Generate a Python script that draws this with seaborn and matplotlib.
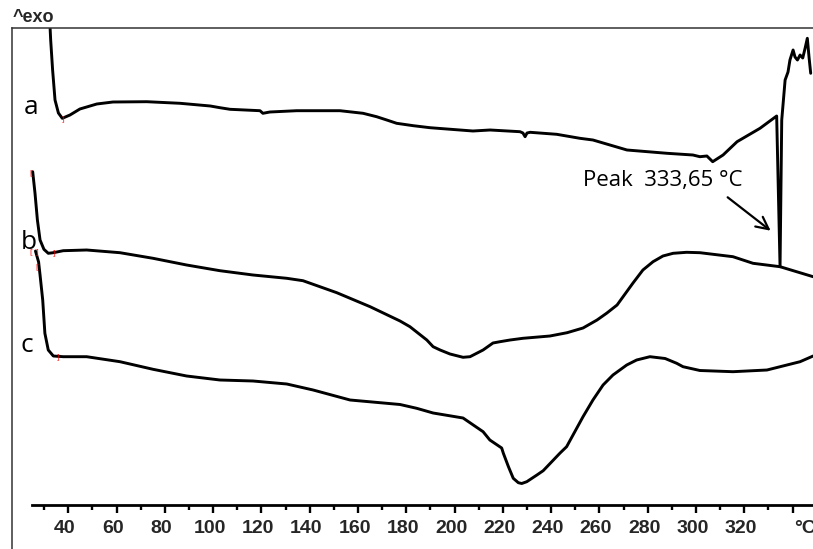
import numpy as np
import pandas as pd
import seaborn as sns
import matplotlib
matplotlib.use("Agg")
from matplotlib import pyplot as plt
from matplotlib.transforms import ScaledTranslation

# DSC curves, temperature in degC, heat flow in arbitrary units (exo up, offset curves)
temp_a = [32.2, 32.7, 33.5, 34.5, 35.9, 37.5, 40.7, 44.8, 51.8, 58.5, 72.5, 86.3, 98.8, 102.8,
          107.0, 119.4, 120.6, 123.5, 134.6, 152.5, 162.1, 167.7, 171.9, 176.0, 182.9, 189.8,
          207.6, 214.7, 227.1, 228.3, 229.2, 230.0, 231.3, 242.3, 251.9, 257.3, 271.4, 288.0,
          298.7, 301.6, 304.5, 306.9, 311.2, 317.0, 326.5, 333.4, 334.8, 335.5, 336.9, 338.1,
          338.9, 340.2, 341.0, 342.0, 343.1, 344.2, 345.2, 346.1, 346.8, 347.5]
flow_a = [49.0, 46.5, 43.5, 40.5, 39.2, 38.67, 39.0, 39.6, 40.1, 40.3, 40.33, 40.17, 39.9, 39.73,
          39.57, 39.43, 39.17, 39.3, 39.43, 39.43, 39.17, 38.83, 38.5, 38.17, 37.93, 37.73,
          37.4, 37.5, 37.33, 37.2, 36.83, 37.2, 37.27, 37.07, 36.67, 36.5, 35.5, 35.17,
          35.0, 34.83, 34.9, 34.33, 35.0, 36.33, 37.67, 38.9, 23.83, 38.5, 42.5, 43.3,
          44.5, 45.5, 44.8, 44.5, 45.0, 44.7, 45.7, 46.67, 44.8, 43.17]

temp_b = [25.25, 26.2, 27.2, 28.3, 29.9, 31.7, 33.8, 37.9, 47.6, 61.4, 75.1, 89.0, 102.8, 116.5,
          130.5, 137.2, 151.2, 165.0, 177.4, 181.5, 188.5, 191.1, 194.0, 198.1, 203.5, 206.4,
          211.8, 215.9, 218.8, 223.0, 228.3, 239.5, 246.6, 253.2, 259.0, 263.1, 267.3, 273.9,
          278.0, 282.2, 286.3, 290.5, 296.1, 301.6, 315.3, 323.6, 334.8, 348.5]
flow_b = [33.33, 31.2, 28.5, 26.5, 25.57, 25.17, 25.23, 25.43, 25.5, 25.23, 24.67, 24.0, 23.43, 23.0,
          22.67, 22.43, 21.23, 19.83, 18.4, 17.83, 16.5, 15.83, 15.5, 15.1, 14.77, 14.83,
          15.5, 16.2, 16.33, 16.5, 16.67, 16.9, 17.23, 17.7, 18.5, 19.2, 20.0, 22.2,
          23.5, 24.33, 24.9, 25.17, 25.27, 25.23, 24.83, 24.17, 23.83, 22.83]

temp_c = [26.4, 27.7, 28.3, 29.4, 30.3, 31.7, 33.8, 37.9, 47.6, 61.4, 75.1, 89.0, 102.8, 116.5,
          130.5, 141.4, 156.7, 177.4, 184.3, 191.1, 203.5, 211.8, 214.6, 219.5, 220.2, 222.3,
          224.3, 226.4, 227.8, 229.9, 234.1, 236.7, 243.7, 246.4, 253.2, 257.3, 261.5, 265.6,
          271.3, 275.4, 280.9, 287.2, 292.0, 294.6, 301.6, 315.3, 329.4, 343.1, 348.5]
flow_c = [25.4, 24.3, 23.0, 20.5, 17.17, 15.5, 14.9, 14.83, 14.83, 14.33, 13.57, 12.9, 12.5, 12.4,
          12.1, 11.5, 10.5, 10.05, 9.67, 9.2, 8.7, 7.33, 6.5, 5.7, 5.17, 3.83,
          2.67, 2.23, 2.15, 2.33, 3.0, 3.43, 5.2, 5.83, 8.83, 10.5, 12.0, 13.0,
          14.0, 14.5, 14.83, 14.65, 14.17, 13.83, 13.45, 13.33, 13.5, 14.33, 14.9]

curve_names = ["a", "b", "c"]
label_pos = [(21.65, 39.1), (20.4, 25.6), (20.4, 15.3)]

# integration limit marks
mark_text = ["]", "[", "[", "]", "]", "[", "]"]
mark_temp = [37.9, 24.4, 24.4, 27.3, 34.1, 26.9, 35.9]
mark_flow = [38.6, 33.2, 25.3, 25.3, 25.2, 23.8, 14.8]

major_ticks = list(range(40, 341, 20))
major_labels = [str(t) for t in range(40, 321, 20)] + ["°C"]
minor_ticks = list(range(30, 341, 20))

peak_text = "Peak  333,65 °C"

sns.set_theme(style="white")
plt.rcParams["font.family"] = ["Open Sans", "DejaVu Sans"]

fig = plt.figure(figsize=(8.13, 5.49), dpi=100)
ax = fig.add_axes([12 / 813, 0, 801 / 813, 521 / 549])

frames = []
for name, t, f in [("a", temp_a, flow_a), ("b", temp_b, flow_b), ("c", temp_c, flow_c)]:
    frames.append(pd.DataFrame({"T": t, "flow": f, "curve": name}))
df = pd.concat(frames, ignore_index=True)

sns.lineplot(data=df, x="T", y="flow", units="curve", estimator=None, sort=False,
             color="black", linewidth=2.1, ax=ax, legend=False,
             solid_joinstyle="round", solid_capstyle="round")

for name, (x, y) in zip(curve_names, label_pos):
    ax.text(x, y, name, fontsize=19, ha="left", va="baseline", color="black")

for s, x, y in zip(mark_text, mark_temp, mark_flow):
    ax.text(x, y, s, fontsize=6, color="red", ha="center", va="center")

ax.text(253.1, 31.93, peak_text, fontsize=16, ha="left", va="baseline", color="black")
ax.annotate("", xy=(330.9, 27.43), xytext=(313.1, 30.77),
            arrowprops=dict(arrowstyle="->", lw=1.6, color="black",
                            shrinkA=0, shrinkB=0, mutation_scale=22))

ax.set_xlim(16.68, 348.45)
ax.set_ylim(-4.4, 47.7)

ax.spines["right"].set_visible(False)
for side in ["left", "top"]:
    ax.spines[side].set_color("#333333")
    ax.spines[side].set_linewidth(1.1)
ax.spines["bottom"].set_position(("data", 0))
ax.spines["bottom"].set_bounds(25, 348.45)
ax.spines["bottom"].set_linewidth(2.0)
ax.spines["bottom"].set_color("black")

ax.set_yticks([])
ax.set_xticks(major_ticks)
ax.set_xticklabels(major_labels, fontsize=14, fontweight="bold",
                   family=["Liberation Sans", "DejaVu Sans"])
ax.set_xticks(minor_ticks, minor=True)
ax.tick_params(axis="x", which="major", direction="out", length=5.5, width=1.7,
               color="black", pad=5, bottom=True)
ax.tick_params(axis="x", which="minor", direction="out", length=3.5, width=1.7,
               color="black", bottom=True)
ax.set_xlabel("")
ax.set_ylabel("")

labels = ax.get_xticklabels()
for lab in labels[:-1]:
    lab.set_transform(lab.get_transform() + ScaledTranslation(-3.5 / 100, 0, fig.dpi_scale_trans))
labels[-1].set_ha("left")
labels[-1].set_transform(labels[-1].get_transform() + ScaledTranslation(1.5 / 100, 0, fig.dpi_scale_trans))

fig.text(13 / 813, 1 - 22 / 549, "^exo", fontsize=13, fontweight="bold",
         family=["Liberation Sans", "DejaVu Sans"], ha="left", va="baseline")

fig.savefig("out.png", dpi=100)
